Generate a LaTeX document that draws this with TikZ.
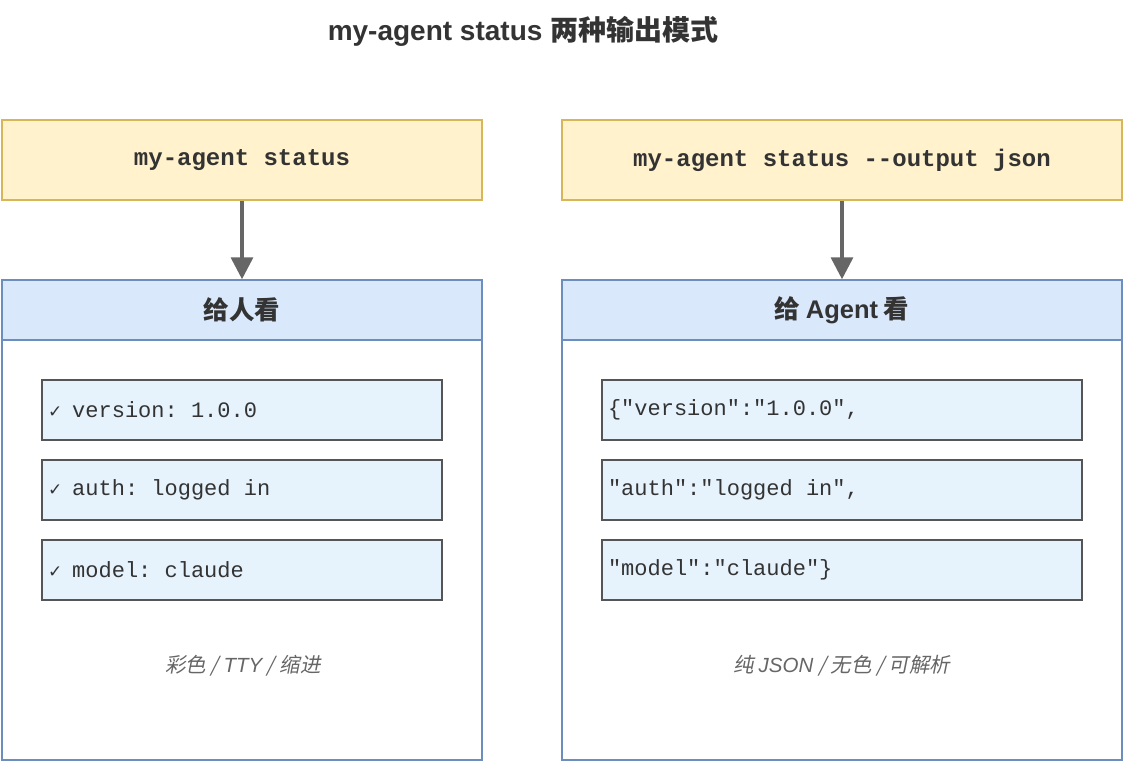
\documentclass[tikz,border=0pt]{standalone}
\usepackage{fontspec}
\setmainfont{Liberation Sans}
\setmonofont{Liberation Mono}
\newfontfamily\cjk{Noto Sans CJK SC}
\newfontfamily\cjkit[FakeSlant=0.2]{Noto Sans CJK SC}
\newfontfamily\chk{DejaVu Sans}
\usetikzlibrary{arrows.meta}
\definecolor{cmdfill}{HTML}{FFF2CC}
\definecolor{cmdline}{HTML}{D6B656}
\definecolor{hdrfill}{HTML}{DAE8FC}
\definecolor{hdrline}{HTML}{6C8EBF}
\definecolor{itemfill}{HTML}{E6F3FD}
\definecolor{itemline}{HTML}{555555}
\definecolor{txt}{HTML}{333333}
\definecolor{arrcol}{HTML}{666666}
\definecolor{captxt}{HTML}{666666}
\tikzset{
  cmdbox/.style={draw=cmdline, fill=cmdfill, line width=1.5pt, minimum height=80pt, inner sep=0pt,
    font=\ttfamily\bfseries\fontsize{24}{28}\selectfont, text=txt},
  panel/.style={draw=hdrline, fill=white, line width=1.5pt, minimum height=480pt, inner sep=0pt},
  hdr/.style={draw=hdrline, fill=hdrfill, line width=1.5pt, minimum height=60pt, inner sep=0pt,
    font=\cjk\bfseries\fontsize{25.5}{30}\selectfont, text=txt},
  item/.style={draw=itemline, fill=itemfill, line width=2pt, minimum height=60pt, inner xsep=6pt, inner ysep=0pt,
    align=left, font=\ttfamily\fontsize{22}{26}\selectfont, text=txt},
  captext/.style={font=\cjkit\fontsize{20.5}{24}\selectfont, text=captxt},
  arr/.style={draw=arrcol, line width=3.5pt, -{Triangle[length=22pt,width=22pt]}},
}
\newcommand{\chkmark}{{\chk\fontsize{17}{20}\selectfont ✓}\hspace{10pt}}
\newcommand{\msp}{\hspace{0.6em}}
\newcommand{\latit}[1]{{\rmfamily\itshape #1}}
\newcommand{\latb}[1]{{\rmfamily\bfseries #1}}
\begin{document}
\begin{tikzpicture}[x=1pt,y=-1pt]
\useasboundingbox (0,0) rectangle (1125,763);
\node[font=\bfseries\fontsize{28}{32}\selectfont, text=txt] (title) at (523,31) {my-agent status {\cjk\bfseries 两种输出模式}};
% commands
\node[cmdbox, minimum width=480pt] (c1) at (242,160) {my-agent\msp status};
\node[cmdbox, minimum width=560pt] (c2) at (842,160) {my-agent\msp status\msp --output\msp json};
% panels
\node[panel, minimum width=480pt] (p1) at (242,520) {};
\node[panel, minimum width=560pt] (p2) at (842,520) {};
\node[hdr, minimum width=480pt] (h1) at (242,310) {\raisebox{-3pt}{给人看}};
\node[hdr, minimum width=560pt] (h2) at (842,310) {\raisebox{-3pt}{给 \latb{Agent} 看}};
% arrows
\draw[arr] (c1.south) -- (h1.north);
\draw[arr] (c2.south) -- (h2.north);
% left items
\node[item, text width=388pt] (l1) at (242,410) {\chkmark version:\msp 1.0.0};
\node[item, text width=388pt] (l2) at (242,490) {\chkmark auth:\msp logged\msp in};
\node[item, text width=388pt] (l3) at (242,570) {\chkmark model:\msp claude};
% right items
\node[item, text width=468pt] (r1) at (842,410) {\{"version":"1.0.0",};
\node[item, text width=468pt] (r2) at (842,490) {"auth":"logged\msp in",};
\node[item, text width=468pt] (r3) at (842,570) {"model":"claude"\}};
% captions
\node[captext] (cap1) at (243,666) {彩色 / \latit{TTY} / 缩进};
\node[captext] (cap2) at (842,666) {纯 \latit{JSON} / 无色 / 可解析};
\end{tikzpicture}
\end{document}
